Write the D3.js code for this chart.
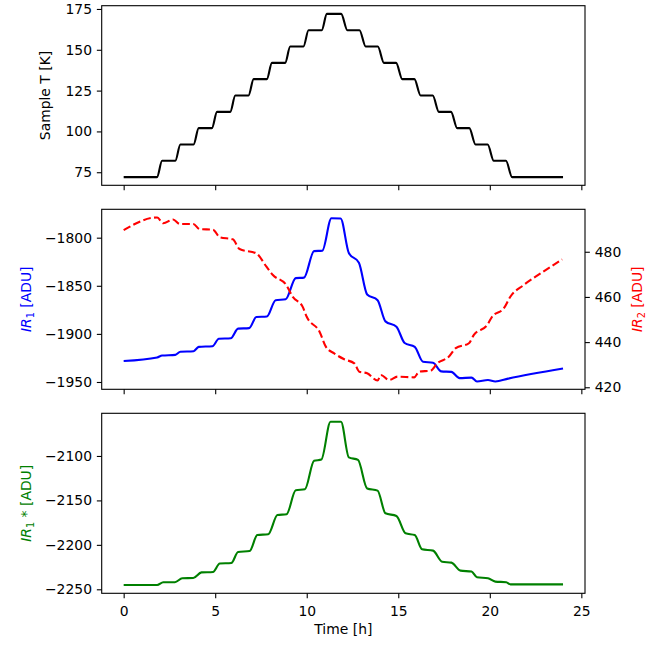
<!DOCTYPE html>
<html><head><meta charset="utf-8">
<script src="https://cdn.jsdelivr.net/npm/d3@7"></script>
<style>
body{margin:0;background:#fff}
text{font-family:"DejaVu Sans",sans-serif}
</style>
</head><body>
<svg id="c" width="670" height="646"></svg>
<script>
// ---------- data ----------
const xTicks = [0, 5, 10, 15, 20, 25];
const tTicks = [75, 100, 125, 150, 175];
const ir1Ticks = [-1950, -1900, -1850, -1800];
const ir2Ticks = [420, 440, 460, 480];
const ir1sTicks = [-2250, -2200, -2150, -2100];

const tempTime = [0, 1.82, 2.1, 2.82, 3.1, 3.82, 4.1, 4.82, 5.1, 5.82, 6.1, 6.82, 7.1, 7.82, 8.1, 8.82, 9.1, 9.82, 10.1, 10.82, 11.1,
  11.88, 12.22, 12.88, 13.22, 13.88, 14.22, 14.88, 15.22, 15.88, 16.22, 16.88, 17.22, 17.88, 18.22, 18.88, 19.22, 19.88, 20.22, 20.88, 21.22, 24];
const tempVal = [72, 72, 82, 82, 92, 92, 102, 102, 112, 112, 122, 122, 132, 132, 142, 142, 152, 152, 162, 162, 172,
  172, 162, 162, 152, 152, 142, 142, 132, 132, 122, 122, 112, 112, 102, 102, 92, 92, 82, 82, 72, 72];

const ir1Time = [0, 1.83, 2.1, 2.82, 3.1, 3.82, 4.1, 4.85, 5.2, 5.85, 6.25, 6.85, 7.25, 7.82, 8.3, 8.85, 9.4, 9.85, 10.4, 10.85, 11.35,
  11.85, 12.3, 12.85, 13.3, 13.87, 14.3, 14.9, 15.35, 15.9, 16.35, 16.9, 17.35, 17.9, 18.35, 19.0, 19.3, 19.9, 20.3, 21.0, 24];
const ir1Val = [-1928.2, -1924.5, -1922.5, -1921.8, -1918.5, -1918, -1913.5, -1912.8, -1905, -1904.5, -1894.5, -1894, -1882.5, -1882, -1865, -1864, -1842, -1841.5, -1814, -1813.5, -1779.8,
  -1780, -1816, -1826, -1859, -1865, -1887, -1892.5, -1909.5, -1913.5, -1929, -1930, -1939, -1939.5, -1946, -1945.5, -1949.5, -1948, -1949.5, -1946.5, -1936];

const ir2Time = [0, 1.83, 2.16, 2.7, 3.07, 3.8, 4.16, 4.88, 5.25, 5.96, 6.33, 7.24, 7.8, 8.15, 8.88, 9.24, 9.78, 10.0, 10.7, 11.05, 11.5,
  12.05, 12.6, 12.87, 13.3, 13.87, 14.05, 14.5, 14.96, 15.87, 16.14, 16.77, 17.13, 17.77, 18.14, 18.86, 19.13, 19.86, 20.13, 20.77, 21.13, 21.86, 22.77, 23.95];
const ir2Val = [489.6, 495.2, 492.6, 494.3, 492.3, 492.3, 490, 489.8, 486.4, 485.5, 481.2, 479.3, 473.4, 469.7, 465.3, 460, 455.6, 451.2, 444.6, 437.9, 435,
  432.4, 430.6, 426.9, 426.2, 423.0, 425.4, 423.2, 424.7, 424.4, 426.9, 427.4, 430.6, 433.6, 437.3, 439.5, 443.2, 447.6, 451.3, 455, 460.2, 465.3, 470.4, 476.6];

const ir1sTime = [0, 1.83, 2.16, 2.8, 3.2, 3.8, 4.25, 4.88, 5.25, 5.88, 6.25, 6.88, 7.3, 7.9, 8.4, 8.9, 9.4, 9.9, 10.4, 10.8, 11.3,
  11.87, 12.3, 12.8, 13.3, 13.87, 14.3, 14.9, 15.4, 15.9, 16.3, 16.9, 17.4, 17.9, 18.4, 19.0, 19.3, 19.9, 20.3, 20.9, 21.13, 24];
const ir1sVal = [-2245.1, -2245.1, -2242.1, -2242, -2237.6, -2237.3, -2231, -2230.5, -2221, -2220.5, -2208, -2207, -2189, -2188, -2166.5, -2165.5, -2138.5, -2137.5, -2105.5, -2104, -2061.5,
  -2061.5, -2101.5, -2104.5, -2136.5, -2139, -2164.5, -2167.5, -2187, -2189, -2205, -2206.5, -2219, -2220, -2229, -2230, -2236.5, -2237.6, -2241.4, -2242, -2244.5, -2244.5];

// ---------- layout ----------
const svg = d3.select("#c");
const L = 101.7, R = 585;
const FS = 13.9, TL = 4.86, TP = 4.86;
const panels = [
  {top: 5.7, bottom: 185.3, domain: [67, 177]},
  {top: 209.3, bottom: 389.3, domain: [-1957.6, -1770.5]},
  {top: 413.3, bottom: 593.3, domain: [-2254.5, -2052]}
];
const x = d3.scaleLinear().domain([-1.2, 25.2]).range([L, R]);

function styleAxis(g) {
  g.select(".domain").remove();
  g.selectAll(".tick line").attr("stroke", "#000").attr("stroke-width", 1.1);
  g.selectAll(".tick text").attr("fill", "#000").style("font-size", FS + "px").style("font-family", "DejaVu Sans");
}

function zip(a, b) { return a.map((t, i) => [t, b[i]]); }

const ticksFor = [tTicks, ir1Ticks, ir1sTicks];
const series = [
  {t: tempTime, v: tempVal, color: "#000000"},
  {t: ir1Time, v: ir1Val, color: "#0000ff"},
  {t: ir1sTime, v: ir1sVal, color: "#008000"}
];
const ys = [];

panels.forEach((p, i) => {
  const y = d3.scaleLinear().domain(p.domain).range([p.bottom, p.top]);
  ys.push(y);
  // x axis
  const xa = d3.axisBottom(x).tickValues(xTicks).tickSize(TL).tickPadding(TP)
    .tickFormat(i === 2 ? d3.format("d") : () => "");
  const gx = svg.append("g").attr("transform", `translate(0,${p.bottom})`).call(xa);
  styleAxis(gx);
  gx.selectAll(".tick text").attr("dy", "0.93em");
  // y axis
  const ya = d3.axisLeft(y).tickValues(ticksFor[i]).tickSize(TL).tickPadding(TP).tickFormat(d3.format("d"));
  const gy = svg.append("g").attr("transform", `translate(${L},0)`).call(ya);
  styleAxis(gy);
});

// lines
const lineGen = (y) => d3.line().x(d => x(d[0])).y(d => y(d[1])).curve(d3.curveMonotoneX);
series.forEach((s, i) => {
  svg.append("path").datum(zip(s.t, s.v)).attr("d", lineGen(ys[i]))
    .attr("fill", "none").attr("stroke", s.color).attr("stroke-width", 2.1)
    .attr("stroke-linejoin", "round").attr("stroke-linecap", "butt");
});

// right axis on panel 2
const p2 = panels[1];
const y2 = d3.scaleLinear().domain([419.1, 498.8]).range([p2.bottom, p2.top]);
const gr = svg.append("g").attr("transform", `translate(${R},0)`)
  .call(d3.axisRight(y2).tickValues(ir2Ticks).tickSize(TL).tickPadding(TP).tickFormat(d3.format("d")));
styleAxis(gr);
svg.append("path").datum(zip(ir2Time, ir2Val)).attr("d", lineGen(y2))
  .attr("fill", "none").attr("stroke", "#ff0000").attr("stroke-width", 2.1)
  .attr("stroke-dasharray", "7.7,3.3");

// frames
panels.forEach(p => {
  svg.append("rect").attr("x", L).attr("y", p.top).attr("width", R - L).attr("height", p.bottom - p.top)
    .attr("fill", "none").attr("stroke", "#000").attr("stroke-width", 1.1);
});

// labels
function ylabel(xb, yc, color, parts) {
  const t = svg.append("text").attr("transform", `translate(${xb},${yc}) rotate(-90)`)
    .attr("text-anchor", "middle").attr("fill", color).style("font-size", FS + "px");
  parts.forEach(pt => {
    const s = t.append("tspan").text(pt.text);
    if (pt.italic) s.style("font-style", "italic");
    if (pt.sub) s.style("font-size", (FS * 0.7) + "px").attr("dy", 3);
    if (pt.reset) s.attr("dy", -3);
  });
}
ylabel(50, (panels[0].top + panels[0].bottom) / 2, "#000", [{text: "Sample T [K]"}]);
ylabel(31, (panels[1].top + panels[1].bottom) / 2, "#0000ff",
  [{text: "IR", italic: true}, {text: "1", sub: true}, {text: " [ADU]", reset: true}]);
ylabel(642, (panels[1].top + panels[1].bottom) / 2, "#ff0000",
  [{text: "IR", italic: true}, {text: "2", sub: true}, {text: " [ADU]", reset: true}]);
ylabel(30.5, (panels[2].top + panels[2].bottom) / 2, "#008000",
  [{text: "IR", italic: true}, {text: "1", sub: true}, {text: " * [ADU]", reset: true}]);

svg.append("text").attr("x", (L + R) / 2).attr("y", 633.5).attr("text-anchor", "middle")
  .attr("fill", "#000").style("font-size", FS + "px").text("Time [h]");
</script>
</body></html>
